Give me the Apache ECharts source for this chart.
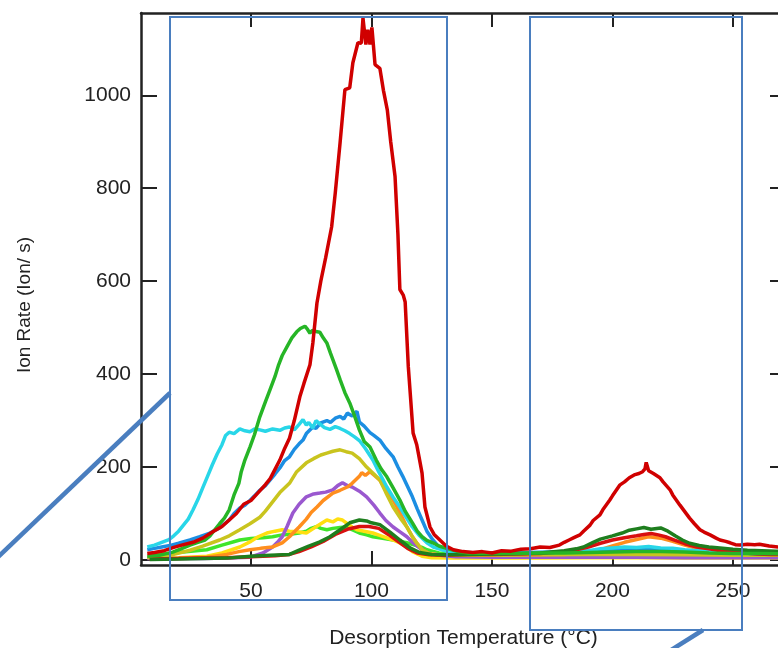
<!DOCTYPE html>
<html>
<head>
<meta charset="utf-8">
<script src="https://cdn.jsdelivr.net/npm/echarts@6/dist/echarts.min.js"></script>
<style>html,body{margin:0;padding:0;background:#fff;overflow:hidden;}#c{width:778px;height:648px;}</style>
</head>
<body>
<div id="c"></div>
<script>
// ---- tick labels ----
const xTicks = [50, 100, 150, 200, 250];
const yTicks = [0, 200, 400, 600, 800, 1000];
const xTitle = 'Desorption Temperature (°C)';
const yTitle = 'Ion Rate (Ion/ s)';

// ---- series data: [temperature °C, ion rate] ----
const redMain = [[7,14],[10,16],[14,20],[18,27],[22,33],[26,38],[30,47],[34,60],[38,72],[41,86],[44,100],[47,120],[50,128],[53,145],[56,162],[58,175],[60,195],[62,215],[64,240],[66,262],[68,300],[70.3,351],[72,380],[74.5,420],[75.7,467],[77.4,553],[79,600],[81,650],[83.5,717],[85,790],[87,898],[89,1012],[91,1016],[92.3,1070],[94.4,1113],[95.8,1112],[96.5,1166],[97.7,1109],[98.5,1141],[99.4,1109],[100.2,1146],[101.5,1066],[103.5,1058],[105,1010],[106.6,968],[108,900],[109.8,825],[111,700],[111.8,582],[113.2,570],[114,555],[115.3,416],[117.3,273],[118.8,248],[120,215],[121,187],[122.2,114],[124.3,71],[126,55],[128.4,43],[131,30],[134,22],[138,18],[142,16],[146,18],[150,15],[154,20],[158,19],[162,23],[166,24],[170,28],[174,27],[178,32],[180,38],[182,43],[184,48],[186.5,54],[188,62],[190.7,75],[192,85],[194.8,97],[196,108],[198.9,129],[200,138],[203,161],[205,168],[207,177],[209,183],[211,186],[212.5,190],[213.5,196],[214,210],[215,192],[217,186],[219.7,177],[221,168],[223.9,151],[225,140],[228,118],[230,104],[232,90],[234,78],[236.3,65],[238,60],[240.5,54],[243,47],[244.6,43],[247,40],[248.8,37],[251,33],[253,32],[256,34],[259,33],[261,34],[265,30],[268.7,28],[272,27]];
const redSmall = [[8,2],[20,3],[30,4],[40,5],[50,7],[60,9],[66,12],[70,18],[75,28],[80,40],[85,55],[90,66],[95,72],[99,72],[103,68],[107,55],[111,40],[115,25],[119,15],[124,11],[130,10],[140,12],[150,12],[160,13],[170,14],[180,18],[185,22],[190,28],[195,36],[200,43],[205,48],[210,52],[213,55],[216,57],[219,54],[222,50],[226,42],[230,35],[235,28],[240,24],[245,20],[250,17],[255,15],[260,13],[266,12],[272,11]];
const darkGreen = [[8,1],[20,2],[30,3],[40,4],[50,8],[58,10],[66,12],[70,21],[74,30],[78.6,39],[82.8,50],[87,65],[91,80],[95,86],[98,84],[100,80],[103.5,76],[107.7,60],[111.8,43],[116,26],[120,16],[125,12],[130,11],[140,12],[150,13],[160,14],[170,15],[180,20],[185,24],[188,28],[192,38],[195,45],[200,52],[204,58],[207,64],[210,67],[213,70],[216,66],[220,69],[223,62],[226,52],[229,43],[232,36],[236,31],[240,28],[244.6,26],[250,23],[256,21],[262,20],[268,19],[272,19]];
const green = [[7,8],[12,10],[17.6,17],[21,24],[24.7,32],[28,38],[31,43],[33,52],[35,65],[37,78],[39,90],[41,108],[43,140],[45,165],[46,190],[47.5,215],[49.6,243],[51.5,270],[53.7,308],[56,340],[57.9,366],[60,395],[61.5,420],[63,440],[65,459],[67,478],[69,491],[70.5,498],[72.4,503],[73.5,496],[74.5,488],[75.5,494],[76.5,492],[78.6,490],[80,478],[81.5,467],[83,445],[84,431],[85.5,410],[87,388],[89,360],[91,338],[93,310],[95,280],[97,255],[99.4,243],[102,215],[104,196],[106.4,179],[109,155],[111.8,129],[114,105],[117,80],[119,62],[121,50],[123,42],[125.5,37],[128,30],[132,24],[136,18],[140,15],[150,14],[160,14],[170,15],[180,15],[190,16],[200,17],[210,18],[220,18],[230,17],[240,15],[250,14],[260,14],[272,13]];
const cyan = [[7,28],[10,32],[13,38],[16,44],[18,52],[20,62],[22,75],[24,88],[26,108],[28,130],[30,155],[32,180],[34,205],[36,228],[38,248],[39.5,268],[41,275],[43,272],[45.4,282],[47.5,278],[49.6,276],[51.5,282],[53.7,280],[56,277],[59,282],[62,279],[64,284],[66,286],[68,280],[70,292],[71.6,302],[73,290],[74,296],[75.7,284],[77,300],[78.6,293],[80.5,285],[82.8,281],[85,287],[87,283],[89,278],[91,272],[93,265],[95,257],[97.5,240],[100.6,215],[103,190],[106.4,157],[109,135],[111.8,114],[114,95],[117,71],[120,52],[123,37],[126,27],[131,19],[136,16],[145,14],[155,14],[165,15],[175,16],[185,18],[190,20],[195,24],[200,26],[205,28],[210,27],[215,29],[220,26],[225,25],[230,22],[235,20],[240,18],[245,16],[250,15],[260,14],[272,13]];
const blue = [[7,22],[10,25],[13,28],[17,32],[20,36],[24.7,43],[28.8,50],[33,58],[37,69],[41,86],[43,100],[45.4,112],[47.5,118],[49.6,128],[51.5,138],[53.7,150],[56,160],[57.9,172],[60,185],[62,198],[64,214],[66,222],[68,238],[70,250],[71.6,258],[73,272],[75.7,286],[77,283],[79,295],[81.5,300],[83,296],[85,305],[87,309],[88.5,303],[90,316],[92,310],[94,320],[95,297],[97,288],[99.4,274],[101,268],[103.5,258],[106,240],[109,222],[111,200],[113,180],[115,158],[117,136],[119,110],[121,86],[123,62],[125.5,43],[128,28],[130,22],[135,17],[145,15],[155,15],[165,16],[175,17],[185,18],[195,20],[200,22],[205,24],[210,23],[215,24],[220,22],[225,21],[230,20],[240,17],[250,15],[260,14],[272,13]];
const olive = [[7,5],[12,7],[18,12],[24.7,21],[30,30],[37,43],[41,52],[45.4,65],[49.6,78],[53.7,92],[56,105],[59,125],[62,145],[66,165],[69,190],[73,209],[76,218],[79,226],[81.5,230],[84,234],[87,237],[89.5,233],[92,230],[95,218],[98,200],[101,185],[103.5,172],[106,145],[109,114],[112,90],[114.7,71],[117,50],[119,35],[121,22],[124,14],[128,11],[135,10],[150,10],[170,11],[190,12],[210,12],[230,11],[250,10],[272,10]];
const orange = [[8,3],[20,4],[31.7,6],[40,12],[45,18],[49.6,22],[54,25],[59,28],[63,37],[66,50],[70,71],[73,88],[75,102],[77.4,114],[80,128],[84,144],[87,150],[90,157],[92,165],[95,180],[96,188],[97.5,182],[99.4,190],[101,183],[103.5,172],[106,150],[109,129],[112,100],[114.7,71],[117,50],[119,35],[121,22],[124,14],[128,11],[140,10],[160,11],[180,12],[190,16],[195,22],[200,30],[205,38],[210,44],[215,50],[220,47],[225,40],[230,32],[235,25],[240,20],[250,15],[260,13],[272,12]];
const purple = [[7,3],[20,3],[30,3],[40,4],[49.6,6],[55,15],[59,28],[61,38],[63,50],[65,72],[67.4,101],[70,120],[73,136],[76,142],[78.6,144],[81,146],[84,151],[86,160],[88,166],[90,160],[92,157],[95,148],[98,136],[101,118],[103.5,101],[106,85],[109,71],[112,60],[114.7,50],[117,38],[121,22],[124,14],[128.4,10],[135,7],[150,6],[170,6],[190,6],[210,6],[230,5],[250,5],[272,5]];
const yellow = [[8,4],[20,5],[31.7,8],[38,15],[42,22],[45.4,28],[50,40],[53,50],[56.6,58],[60,62],[63,65],[66,62],[70,60],[73,58],[76,68],[79,78],[81.5,86],[84,82],[86,88],[88,86],[90,78],[92,71],[94,65],[97,62],[100.6,58],[104,52],[109,43],[112,36],[114.7,28],[117,18],[121,8],[125,5],[135,4],[150,4],[170,4],[190,5],[210,5],[230,4],[250,4],[272,4]];
const lime = [[8,10],[12,12],[17.6,15],[24,18],[31.7,22],[38,32],[45.4,43],[50,46],[55,48],[59,50],[63,54],[67,56],[70,58],[73,62],[75,68],[77.4,72],[79,68],[81.5,65],[84,68],[87,70],[90,71],[92,65],[95,58],[98,54],[100.6,50],[104,47],[109,43],[112,40],[114.7,37],[118,32],[121,27],[123,22],[126,18],[128,15],[135,13],[150,12],[170,13],[190,14],[210,14],[230,13],[250,12],[272,12]];

const seriesList = [
  {name: 'lime', data: lime, color: '#3fe52a'},
  {name: 'yellow', data: yellow, color: '#ffdf10'},
  {name: 'purple', data: purple, color: '#9a58cf'},
  {name: 'orange', data: orange, color: '#ff8e1e'},
  {name: 'olive', data: olive, color: '#c9c41e'},
  {name: 'blue', data: blue, color: '#1c8ee2'},
  {name: 'cyan', data: cyan, color: '#28d6e8'},
  {name: 'red2', data: redSmall, color: '#d81010'},
  {name: 'darkgreen', data: darkGreen, color: '#1e7e1e'},
  {name: 'green', data: green, color: '#26b526'},
  {name: 'red', data: redMain, color: '#d00000'}
];

const FONT = '"Liberation Sans", Arial, Helvetica, sans-serif';
const AX = '#222';
const plain = v => String(v);

const chart = echarts.init(document.getElementById('c'), null, {renderer: 'canvas'});
chart.setOption({
  animation: false,
  backgroundColor: '#fff',
  grid: {left: 141, top: 13, width: 645, height: 552, containLabel: false, outerBoundsMode: 'none'},
  xAxis: [
    {
      type: 'value', position: 'bottom', min: 4.4, max: 272,
      name: xTitle, nameLocation: 'middle', nameGap: 63,
      nameTextStyle: {fontFamily: FONT, fontSize: 21, color: AX},
      axisLine: {show: true, onZero: false, lineStyle: {color: AX, width: 2.5}},
      axisTick: {show: true, inside: true, length: 14, lineStyle: {color: AX, width: 2}, customValues: xTicks},
      axisLabel: {show: true, margin: 16, fontFamily: FONT, fontSize: 21, color: AX, customValues: xTicks, formatter: plain},
      splitLine: {show: false}
    },
    {
      type: 'value', position: 'top', min: 4.4, max: 272,
      axisLine: {show: true, onZero: false, lineStyle: {color: AX, width: 2.5}},
      axisTick: {show: true, inside: true, length: 14, lineStyle: {color: AX, width: 2}, customValues: xTicks},
      axisLabel: {show: false},
      splitLine: {show: false}
    }
  ],
  yAxis: [
    {
      type: 'value', position: 'left', min: -10.8, max: 1177,
      axisLine: {show: true, onZero: false, lineStyle: {color: AX, width: 2.5}},
      axisTick: {show: true, inside: true, length: 16, lineStyle: {color: AX, width: 2}, customValues: yTicks},
      axisLabel: {show: true, margin: 10, fontFamily: FONT, fontSize: 21, color: AX, customValues: yTicks, formatter: plain},
      splitLine: {show: false}
    },
    {
      type: 'value', position: 'right', min: -10.8, max: 1177,
      axisLine: {show: true, onZero: false, lineStyle: {color: AX, width: 2.5}},
      axisTick: {show: true, inside: true, length: 16, lineStyle: {color: AX, width: 2}, customValues: yTicks},
      axisLabel: {show: false},
      splitLine: {show: false}
    }
  ],
  series: seriesList.map(s => ({
    name: s.name, type: 'line', data: s.data, xAxisIndex: 0, yAxisIndex: 0,
    showSymbol: false, symbol: 'none', smooth: false, clip: true,
    lineStyle: {color: s.color, width: 3.5},
    itemStyle: {color: s.color}
  })),
  graphic: [
    {type: 'text', x: 25, y: 305, rotation: Math.PI / 2, z: 50,
     style: {text: yTitle, fontFamily: FONT, fontSize: 19, fill: AX, align: 'center', verticalAlign: 'middle'}},
    {type: 'rect', z: 100, shape: {x: 170, y: 17, width: 277, height: 583}, style: {fill: 'none', stroke: '#4a7ebf', lineWidth: 2}},
    {type: 'rect', z: 100, shape: {x: 530, y: 17, width: 212, height: 613}, style: {fill: 'none', stroke: '#4a7ebf', lineWidth: 2}},
    {type: 'line', z: 100, shape: {x1: 170, y1: 393, x2: -2, y2: 557}, style: {stroke: '#4a7ebf', lineWidth: 4.5}},
    {type: 'line', z: 100, shape: {x1: 703, y1: 630, x2: 668, y2: 652}, style: {stroke: '#4a7ebf', lineWidth: 4.5}}
  ]
});
</script>
</body>
</html>
